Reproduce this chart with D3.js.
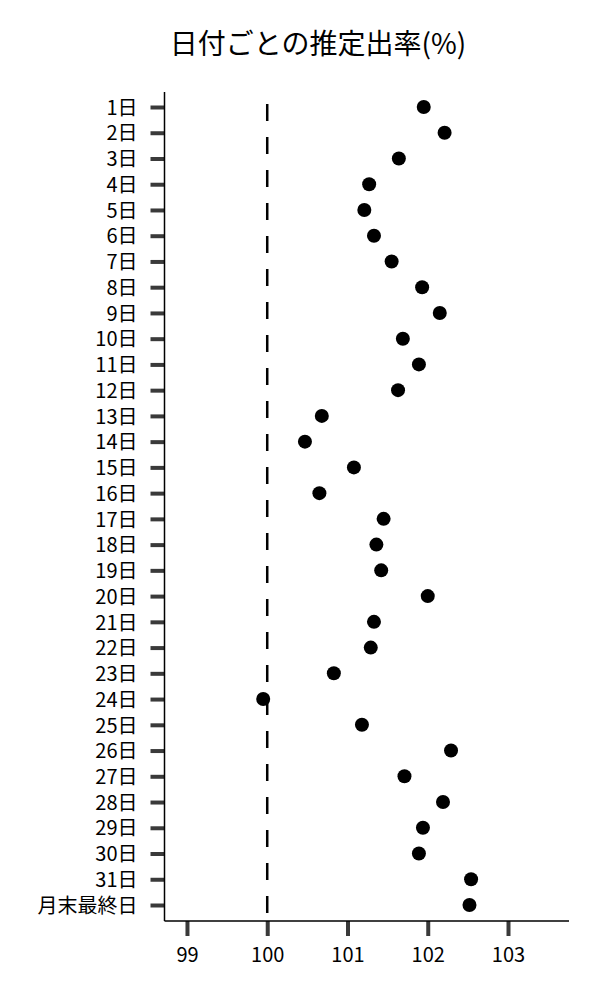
<!DOCTYPE html>
<html>
<head>
<meta charset="utf-8">
<script src="https://cdn.jsdelivr.net/npm/d3@7"></script>
<style>
  body { margin: 0; background: #fff; }
  svg text { font-family: "Noto Sans CJK JP", "Noto Sans", sans-serif; fill: #000; }
</style>
</head>
<body>
<svg id="chart" width="600" height="1000"></svg>
<script>
  // days shown on the y axis, top to bottom
  var days = ["1日", "2日", "3日", "4日", "5日", "6日", "7日", "8日", "9日", "10日",
    "11日", "12日", "13日", "14日", "15日", "16日", "17日", "18日", "19日", "20日",
    "21日", "22日", "23日", "24日", "25日", "26日", "27日", "28日", "29日", "30日",
    "31日", "月末最終日"];

  // estimated rate (%) per day
  var rates = [101.95, 102.21, 101.64, 101.27, 101.21, 101.33, 101.55, 101.93, 102.15, 101.69,
    101.89, 101.63, 100.68, 100.47, 101.08, 100.65, 101.45, 101.36, 101.42, 102.00,
    101.33, 101.29, 100.83, 99.95, 101.18, 102.29, 101.71, 102.19, 101.94, 101.89,
    102.54, 102.52];

  var xTicks = [99, 100, 101, 102, 103];
  var refValue = 100;
  var title = "日付ごとの推定出率(%)";

  var svg = d3.select("#chart");

  var plotLeft = 164.5, plotRight = 569, plotTop = 92, plotBottom = 921;

  var x = d3.scaleLinear()
    .domain([98.72, 103.76])
    .range([plotLeft, plotRight]);

  var y = d3.scalePoint()
    .domain(days)
    .range([107, 905]);

  var data = days.map(function(d, i) { return {day: d, rate: rates[i]}; });

  // title
  svg.append("text")
    .attr("x", 318)
    .attr("y", 54)
    .attr("text-anchor", "middle")
    .attr("font-size", 28)
    .text(title);

  // reference line at 100
  svg.append("line")
    .attr("x1", x(refValue)).attr("x2", x(refValue))
    .attr("y1", 104).attr("y2", plotBottom)
    .attr("stroke", "#000")
    .attr("stroke-width", 2.5)
    .attr("stroke-dasharray", "17,16");

  // y axis
  var yAxis = svg.append("g")
    .attr("transform", "translate(" + plotLeft + ",0)")
    .call(d3.axisLeft(y).tickSize(14).tickPadding(13));
  yAxis.select(".domain").remove();
  yAxis.selectAll(".tick line").attr("stroke", "#3a3a3a").attr("stroke-width", 4);
  yAxis.selectAll(".tick text").attr("font-size", 20).attr("font-family", null).attr("dy", "0.36em");

  // x axis
  var xAxis = svg.append("g")
    .attr("transform", "translate(0," + plotBottom + ")")
    .call(d3.axisBottom(x).tickValues(xTicks).tickFormat(d3.format("d")).tickSize(15).tickPadding(12));
  xAxis.select(".domain").remove();
  xAxis.selectAll(".tick line").attr("stroke", "#3a3a3a").attr("stroke-width", 4);
  xAxis.selectAll(".tick text").attr("font-size", 20).attr("font-family", null);

  // spines
  svg.append("line")
    .attr("x1", plotLeft).attr("x2", plotLeft)
    .attr("y1", plotTop).attr("y2", plotBottom)
    .attr("stroke", "#000").attr("stroke-width", 1.5);
  svg.append("line")
    .attr("x1", plotLeft).attr("x2", plotRight)
    .attr("y1", plotBottom).attr("y2", plotBottom)
    .attr("stroke", "#000").attr("stroke-width", 1.5);

  // dots
  svg.append("g")
    .selectAll("circle")
    .data(data)
    .enter().append("circle")
    .attr("cx", function(d) { return x(d.rate); })
    .attr("cy", function(d) { return y(d.day); })
    .attr("r", 7)
    .attr("fill", "#000");
</script>
</body>
</html>
